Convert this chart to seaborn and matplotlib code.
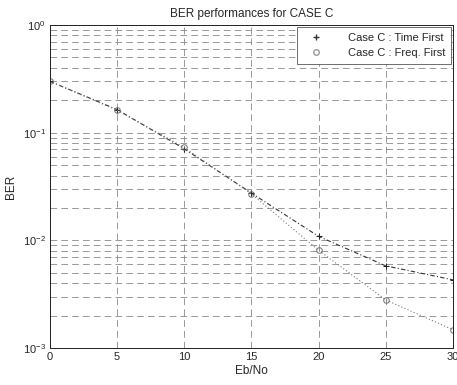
import numpy as np
import pandas as pd
import matplotlib
matplotlib.use("Agg")
import matplotlib.pyplot as plt
import seaborn as sns
from matplotlib.lines import Line2D

# values
ebno = [0, 5, 10, 15, 20, 25, 30]
ber_time_first = [0.30, 0.164, 0.071, 0.0275, 0.0109, 0.0058, 0.0043]
ber_freq_first = [0.30, 0.162, 0.073, 0.0270, 0.0081, 0.0028, 0.00148]
labels = ["Case C : Time First", "Case C : Freq. First"]

sns.set_style("white")
plt.rcParams["font.family"] = ["Liberation Sans", "DejaVu Sans"]

fig = plt.figure(figsize=(4.57, 3.85), dpi=100)
ax = fig.add_axes([0.109, 0.096, 0.882, 0.839])

# Time first: '+' markers, dash-dot line
sns.lineplot(x=ebno, y=ber_time_first, color="#333333", marker="+", markersize=5,
             markeredgecolor="#222222", linewidth=0.8, ax=ax)
ax.lines[-1].set_dashes((4, 2, 1, 2))
# Freq first: 'o' markers, dotted line
sns.lineplot(x=ebno, y=ber_freq_first, color="#777777", marker="o", markersize=4,
             markerfacecolor="none", markeredgecolor="#777777", linewidth=0.8, ax=ax)
ax.lines[-1].set_dashes((1, 2))

ax.set_yscale("log")
ax.set_xlim(0, 30)
ax.set_ylim(1e-3, 1)
ax.set_xticks([0, 5, 10, 15, 20, 25, 30])
ax.grid(True, which="both", color="#888888", linestyle=(0, (8, 5)), linewidth=0.6)
ax.grid(False, which="minor", axis="x")
for s in ax.spines.values():
    s.set_color("#222222")
    s.set_linewidth(0.7)
ax.tick_params(labelsize=8, length=0, pad=3)

ax.set_title("BER performances for CASE C", fontsize=8.5, pad=6)
ax.set_xlabel("Eb/No", fontsize=8.5, labelpad=2)
ax.set_ylabel("BER", fontsize=8.5)

handles = [Line2D([], [], linestyle="none", marker="+", color="#333333", markersize=5),
           Line2D([], [], linestyle="none", marker="o", markerfacecolor="none",
                  markeredgecolor="#999999", markersize=4)]
leg = ax.legend(handles, labels, loc="upper right", fontsize=8, frameon=True,
                fancybox=False, borderaxespad=0.2, handlelength=2.5,
                handletextpad=1.6, borderpad=0.5, framealpha=1)
leg.get_frame().set_edgecolor("#555555")
leg.get_frame().set_linewidth(0.6)

fig.savefig("out.png", dpi=100)
